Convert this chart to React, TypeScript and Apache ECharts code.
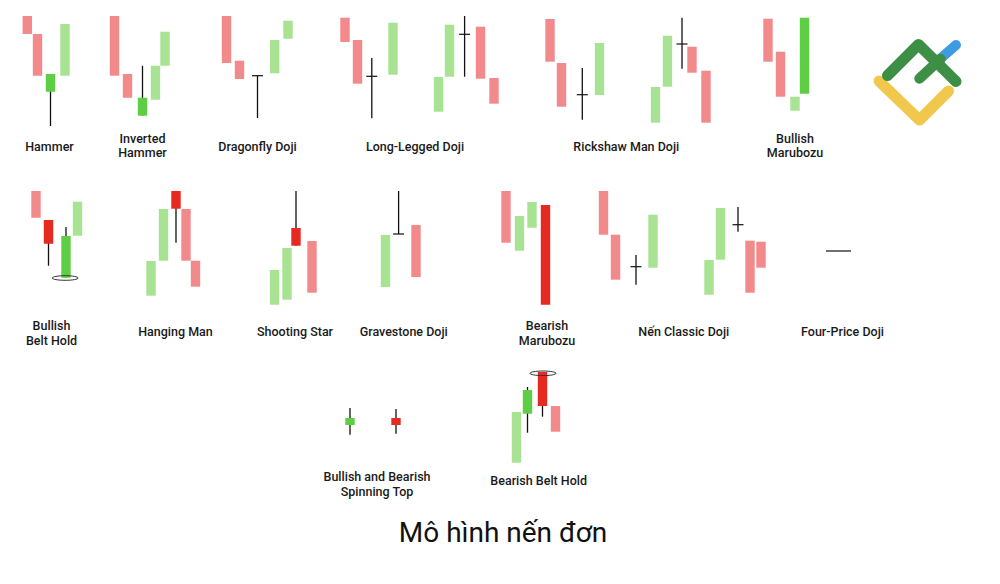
import React, { useEffect, useRef } from "react";
import * as echarts from "echarts";

// Each candle: [x, bodyTop, bodyBottom, wickTop?, wickBottom?]  (values on an inverted y scale)
const lightRedCandles = [
  [27.3, 16, 34], [37.5, 34, 75.7],
  [114.5, 16, 75.7], [127.5, 74, 97.7],
  [226.5, 16, 63], [239.5, 60.7, 79],
  [345, 17.7, 42], [357.5, 40, 83.7], [480.5, 26.7, 78.7], [494, 78, 103.7],
  [550, 19, 61.7], [561.5, 63, 106.7], [692, 46.7, 72.7], [706, 70.7, 122.7],
  [768, 18.7, 61.7], [780.5, 51.7, 96.7],
  [36, 191, 217.7],
  [186, 209, 260.7], [195.5, 260.7, 286.7],
  [312, 241, 292.7],
  [416, 225, 277],
  [506, 191, 242.7],
  [603.5, 191, 234.7], [615.5, 234.7, 279.7], [750, 240.7, 292.7], [761, 241.7, 267.7],
  [555.5, 406, 431.7],
];

const redCandles = [
  [48.5, 220, 243.7, 220, 265.7],
  [176, 191, 208.7, 191, 242.7],
  [296, 228, 245.7, 191, 245.7],
  [545.5, 205, 304.7],
  [396, 418, 425, 409, 433.7],
  [542.5, 372, 406, 372, 416.7],
];

const lightGreenCandles = [
  [65, 24, 75.7],
  [155.5, 65.7, 99.7], [165, 31.7, 65.7],
  [274.7, 40, 73.3], [288, 20.7, 38.7],
  [393, 22.7, 74.7], [438.5, 77, 111.7], [449.5, 24.7, 76.7],
  [599.5, 43, 95], [655.5, 87, 122.7], [667.5, 35.7, 86.7],
  [795, 96.7, 110.7],
  [77.5, 201.7, 235.7],
  [151, 261, 295.7], [163.5, 209, 260.7],
  [274.5, 270, 304.7], [287, 248, 299.7],
  [385.5, 235, 287],
  [519.5, 216, 250.7], [532, 202, 227.7],
  [653, 214.7, 267.7], [709, 260, 294.7], [720.5, 208, 259.7],
  [516.5, 412, 462.7],
];

const greenCandles = [
  [50.5, 74, 91.7, 74, 126],
  [142.5, 97.7, 115.7, 65.7, 115.7],
  [804.5, 17.7, 93.7],
  [66, 236, 277.7, 227, 277.7],
  [350, 418, 425, 408, 434.7],
  [527.5, 390, 413.7, 387, 432.7],
];

// Doji: [x, level, wickTop, wickBottom]
const dojiCandles = [
  [257.5, 75.7, 75.7, 118],
  [371.8, 76.3, 58, 118.3],
  [464.6, 34.3, 16, 76.7],
  [582.3, 94.7, 68, 119.7],
  [682, 44, 17.7, 68.7],
  [398.6, 234, 191, 234],
  [636, 266.7, 255, 284.7],
  [738, 224.7, 207, 231.7],
];
const fourPriceDoji = [[838.5, 251, 251, 251]];

// Highlight ellipses: [x, y]
const highlightMarks = [[65.2, 278], [543, 373.3]];

// Labels: [text, x, y]
const patternLabels: [string, number, number][] = [
  ["Hammer", 49.5, 146.5],
  ["Inverted\nHammer", 142.5, 145.5],
  ["Dragonfly Doji", 257.5, 146.5],
  ["Long-Legged Doji", 415, 146.5],
  ["Rickshaw Man Doji", 626.3, 146.5],
  ["Bullish\nMarubozu", 795, 145.5],
  ["Bullish\nBelt Hold", 51.5, 333],
  ["Hanging Man", 175.5, 331.5],
  ["Shooting Star", 295, 331.5],
  ["Gravestone Doji", 403.7, 331.5],
  ["Bearish\nMarubozu", 547, 333],
  ["Nến Classic Doji", 683.8, 331.5],
  ["Four-Price Doji", 842.5, 331.5],
  ["Bullish and Bearish\nSpinning Top", 377, 484],
  ["Bearish Belt Hold", 538.7, 480.5],
];
const chartTitle = "Mô hình nến đơn";

const BODY_W = 9.4;
const FONT = "Roboto, 'Noto Sans', sans-serif";

const COLORS = {
  lightRed: "#f2898a",
  red: "#e62a22",
  lightGreen: "#a8e394",
  green: "#5ecf44",
  wick: "#111111",
};

function norm(d: number[]) {
  return d.length >= 5 ? d : [d[0], d[1], d[2], d[1], d[2]];
}

function candleSeries(name: string, data: number[][], color: string) {
  return {
    type: "custom",
    name,
    data: data.map(norm),
    encode: { x: 0, y: [1, 2, 3, 4] },
    clip: false,
    silent: true,
    renderItem: (params: any, api: any) => {
      const x = api.value(0);
      const top = api.coord([x, api.value(1)]);
      const bottom = api.coord([x, api.value(2)]);
      const wt = api.coord([x, api.value(3)]);
      const wb = api.coord([x, api.value(4)]);
      const w = api.size([BODY_W, 0])[0];
      const children: any[] = [];
      if (wt[1] < top[1] - 0.1 || wb[1] > bottom[1] + 0.1) {
        children.push({
          type: "line",
          shape: { x1: top[0], y1: wt[1], x2: top[0], y2: wb[1] },
          style: { stroke: COLORS.wick, lineWidth: 1.3 },
        });
      }
      children.push({
        type: "rect",
        shape: { x: top[0] - w / 2, y: top[1], width: w, height: bottom[1] - top[1] },
        style: { fill: color },
      });
      return { type: "group", children };
    },
  };
}

function dojiSeries(name: string, data: number[][], halfWidth: number) {
  return {
    type: "custom",
    name,
    data,
    encode: { x: 0, y: [1, 2, 3] },
    clip: false,
    silent: true,
    renderItem: (params: any, api: any) => {
      const x = api.value(0);
      const lvl = api.coord([x, api.value(1)]);
      const t = api.coord([x, api.value(2)]);
      const b = api.coord([x, api.value(3)]);
      const hw = api.size([halfWidth, 0])[0];
      const children: any[] = [
        {
          type: "line",
          shape: { x1: lvl[0] - hw, y1: lvl[1], x2: lvl[0] + hw, y2: lvl[1] },
          style: { stroke: COLORS.wick, lineWidth: 1.2 },
        },
      ];
      if (b[1] - t[1] > 0.5) {
        children.push({
          type: "line",
          shape: { x1: lvl[0], y1: t[1], x2: lvl[0], y2: b[1] },
          style: { stroke: COLORS.wick, lineWidth: 1.3 },
        });
      }
      return { type: "group", children };
    },
  };
}

const ellipseSeries = {
  type: "custom",
  name: "highlight",
  data: highlightMarks,
  encode: { x: 0, y: 1 },
  clip: false,
  silent: true,
  renderItem: (params: any, api: any) => {
    const p = api.coord([api.value(0), api.value(1)]);
    return {
      type: "ellipse",
      shape: { cx: p[0], cy: p[1], rx: 13, ry: 2.3 },
      style: { fill: "none", stroke: "#333", lineWidth: 1 },
    };
  },
};

export default function App() {
  const ref = useRef<HTMLDivElement>(null);
  useEffect(() => {
    const chart = echarts.init(ref.current!, null, { renderer: "svg" });
    const labelEls = patternLabels.map(([text, x, y]) => ({
      type: "text",
      x,
      y,
      silent: true,
      style: {
        text,
        textAlign: "center",
        textVerticalAlign: "middle",
        fontFamily: FONT,
        fontSize: 12.5,
        fontWeight: 500,
        lineHeight: 14.5,
        fill: "#1a1a1a",
      },
    }));
    const logoEls = [
      {
        type: "polyline",
        shape: { points: [[879, 81], [919.5, 120], [948.5, 91]] },
        style: { stroke: "#f1c84b", lineWidth: 11, lineCap: "round", lineJoin: "round", fill: "none" },
      },
      {
        type: "line",
        shape: { x1: 940, y1: 59, x2: 956, y2: 45 },
        style: { stroke: "#3e9be1", lineWidth: 10, lineCap: "round" },
      },
      {
        type: "polyline",
        shape: { points: [[887.5, 75.5], [918.5, 44.5], [956, 81.5]] },
        style: { stroke: "#3e8f46", lineWidth: 11, lineCap: "round", lineJoin: "round", fill: "none" },
      },
      {
        type: "line",
        shape: { x1: 919.5, y1: 78.5, x2: 940.5, y2: 59 },
        style: { stroke: "#3e8f46", lineWidth: 10.5, lineCap: "round" },
      },
    ];
    chart.setOption({
      animation: false,
      backgroundColor: "#ffffff",
      grid: { left: 0, right: 0, top: 0, bottom: 0 },
      xAxis: { type: "value", min: 0, max: 1000, show: false },
      yAxis: { type: "value", min: 0, max: 584, inverse: true, show: false },
      series: [
        candleSeries("lightRed", lightRedCandles, COLORS.lightRed),
        candleSeries("lightGreen", lightGreenCandles, COLORS.lightGreen),
        candleSeries("red", redCandles, COLORS.red),
        candleSeries("green", greenCandles, COLORS.green),
        dojiSeries("doji", dojiCandles, 5.5),
        dojiSeries("fourPrice", fourPriceDoji, 12.5),
        ellipseSeries,
      ],
      graphic: [
        ...labelEls,
        {
          type: "text",
          x: 503,
          y: 532.5,
          silent: true,
          style: {
            text: chartTitle,
            textAlign: "center",
            textVerticalAlign: "middle",
            fontFamily: FONT,
            fontSize: 28,
            fontWeight: 400,
            fill: "#111",
          },
        },
        ...logoEls,
      ],
    });
    return () => chart.dispose();
  }, []);
  return (
    <div
      ref={ref}
      style={{ position: "fixed", left: 0, top: 0, width: 1000, height: 584, background: "#fff" }}
    />
  );
}
